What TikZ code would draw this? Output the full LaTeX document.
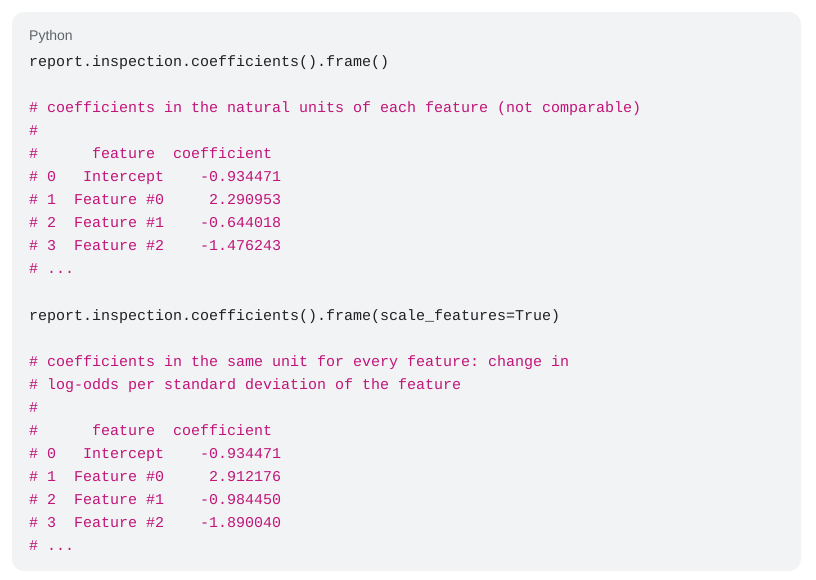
\documentclass[tikz,border=0pt]{standalone}
\usepackage{fontspec}
\setmainfont{Liberation Sans}
\newfontfamily\codefont{Liberation Mono}
\usetikzlibrary{positioning}
\definecolor{panelbg}{HTML}{F1F3F4}
\definecolor{codefg}{HTML}{202124}
\definecolor{cmtfg}{HTML}{C2157A}
\definecolor{langfg}{HTML}{5F6368}

\begin{document}
\begin{tikzpicture}[x=1pt, y=-1pt,
  code/.style = {anchor=base west, inner sep=0pt, font=\codefont\fontsize{15}{15}\selectfont, text=codefg},
  cmt/.style = {code, text=cmtfg}]
  \useasboundingbox (0,0) rectangle (816,579);
  \fill [panelbg, rounded corners=12pt] (12,12) rectangle (801,571);

  \node (lang) [anchor=base west, inner sep=0pt, font=\fontsize{14}{14}\selectfont, text=langfg] at (29,40) {Python};

  % unscaled coefficients
  \node (call1) [code] at (29,66) {report.inspection.coefficients().frame()};
  \node (c1a) [cmt] at (29,112) {\#~coefficients~in~the~natural~units~of~each~feature~(not~comparable)};
  \node (c1b) [cmt] at (29,135) {\#};
  \node (c1c) [cmt] at (29,158) {\#~~~~~~feature~~coefficient};
  \node (c1d) [cmt] at (29,181) {\#~0~~~Intercept~~~~-0.934471};
  \node (c1e) [cmt] at (29,204) {\#~1~~Feature~\#0~~~~~2.290953};
  \node (c1f) [cmt] at (29,227) {\#~2~~Feature~\#1~~~~-0.644018};
  \node (c1g) [cmt] at (29,250) {\#~3~~Feature~\#2~~~~-1.476243};
  \node (c1h) [cmt] at (29,273) {\#~...};

  % scaled coefficients
  \node (call2) [code] at (29,320) {report.inspection.coefficients().frame(scale\_features=True)};
  \node (c2a) [cmt] at (29,366) {\#~coefficients~in~the~same~unit~for~every~feature:~change~in};
  \node (c2b) [cmt] at (29,389) {\#~log-odds~per~standard~deviation~of~the~feature};
  \node (c2c) [cmt] at (29,412) {\#};
  \node (c2d) [cmt] at (29,435) {\#~~~~~~feature~~coefficient};
  \node (c2e) [cmt] at (29,458) {\#~0~~~Intercept~~~~-0.934471};
  \node (c2f) [cmt] at (29,481) {\#~1~~Feature~\#0~~~~~2.912176};
  \node (c2g) [cmt] at (29,504) {\#~2~~Feature~\#1~~~~-0.984450};
  \node (c2h) [cmt] at (29,527) {\#~3~~Feature~\#2~~~~-1.890040};
  \node (c2i) [cmt] at (29,550) {\#~...};
\end{tikzpicture}
\end{document}
